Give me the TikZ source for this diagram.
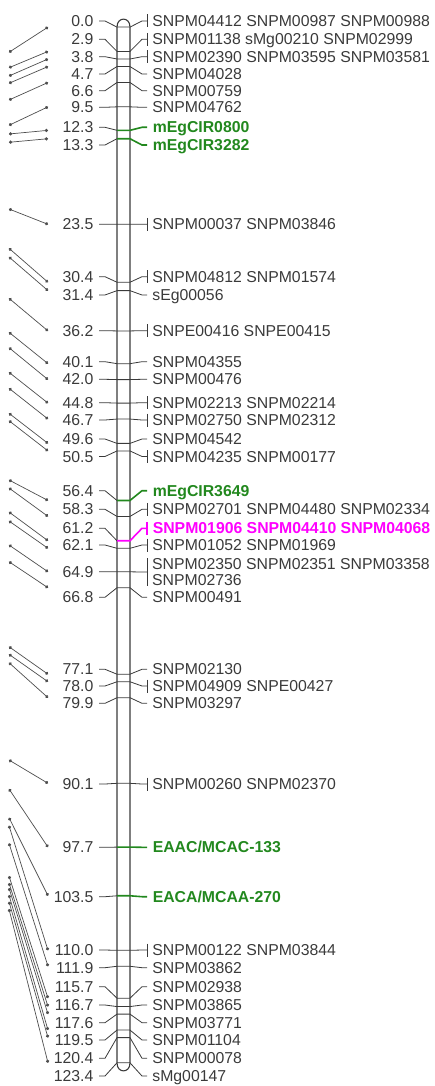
\documentclass[tikz,border=0pt]{standalone}
\usepackage{fontspec}
\setmainfont{Liberation Sans}
\usetikzlibrary{arrows.meta}
\definecolor{ink}{HTML}{3A3A3A}
\definecolor{qtlgreen}{HTML}{22881E}
\definecolor{hitpink}{HTML}{FF00FF}
\newcommand{\mapsize}{\fontsize{15.8}{17}\selectfont}

\begin{document}
\begin{tikzpicture}[x=1pt,y=-1pt,
  plain/.style={color=ink,line width=0.8pt,font=\mapsize},
  qtl/.style={color=qtlgreen,line width=1.6pt,font=\mapsize\bfseries},
  hit/.style={color=hitpink,line width=1.6pt,font=\mapsize\bfseries},
  cmlabel/.style={anchor=east,inner xsep=5.5pt,inner ysep=1pt,text height=11pt,text depth=0pt,font=\mapsize,text=ink},
  mklabel/.style={anchor=west,inner xsep=5pt,inner ysep=1pt,text height=11pt,text depth=0pt},
  mkpair/.style={anchor=west,inner xsep=5pt,inner ysep=0pt,align=left,font={\fontsize{15.8}{16}\selectfont},text=ink},
  link/.style={draw=ink,line width=0.8pt},
  cmp/.style={{Circle[length=3.2pt]}-{Circle[length=3.2pt]},draw=ink!90,line width=0.7pt},
  chrom/.style={draw=ink,line width=1.1pt}
]
\useasboundingbox (0,0) rectangle (434,1086);

% linkage group bar
\draw[chrom] (117,27) .. controls (117,16.5) and (130,16.5) .. (130,27)
  -- (130,1063) .. controls (130,1073.5) and (117,1073.5) .. (117,1063) -- cycle;

% loci: cM / label y / comparison y / tick / style / markers
\foreach \p/\ly/\oy/\th/\c/\txt [count=\i] in {
  0.0/21/52.3/6.5/plain/SNPM04412 SNPM00987 SNPM00988,
  2.9/39.3/67.7/6.5/plain/SNPM01138 sMg00210 SNPM02999,
  3.8/56.7/76/6.5/plain/SNPM02390 SNPM03595 SNPM03581,
  4.7/74/83.3/0/plain/SNPM04028,
  6.6/90.7/100/0/plain/SNPM00759,
  9.5/107.3/125.3/0/plain/SNPM04762,
  12.3/127.3/134/0/qtl/mEgCIR0800,
  13.3/145/142.3/0/qtl/mEgCIR3282,
  23.5/224.3/209/6.5/plain/SNPM00037 SNPM03846,
  30.4/276.7/248.3/6.5/plain/SNPM04812 SNPM01574,
  31.4/295/257/0/plain/sEg00056,
  36.2/330.7/298.3/6.5/plain/SNPE00416 SNPE00415,
  40.1/361.7/332.3/0/plain/SNPM04355,
  42.0/379.3/347.7/0/plain/SNPM00476,
  44.8/402.7/372.3/6.5/plain/SNPM02213 SNPM02214,
  46.7/420/388.3/6.5/plain/SNPM02750 SNPM02312,
  49.6/439/413.3/0/plain/SNPM04542,
  50.5/456.5/420.7/6.5/plain/SNPM04235 SNPM00177,
  56.4/490.7/480/0/qtl/mEgCIR3649,
  58.3/509.3/488/6.5/plain/SNPM02701 SNPM04480 SNPM02334,
  61.2/528.3/512/6.5/hit/SNPM01906 SNPM04410 SNPM04068,
  62.1/545/521/6.5/plain/SNPM01052 SNPM01969,
  66.8/597.3/561.7/0/plain/SNPM00491,
  77.1/669.3/646.7/0/plain/SNPM02130,
  78.0/686/654.3/6.5/plain/SNPM04909 SNPE00427,
  79.9/703.3/662.7/0/plain/SNPM03297,
  90.1/784/760/6.5/plain/SNPM00260 SNPM02370,
  97.7/847.3/789/0/qtl/{EAAC/MCAC-133},
  103.5/896.7/817.7/0/qtl/{EACA/MCAA-270},
  110.0/950/825.7/6.5/plain/SNPM00122 SNPM03844,
  111.9/967.7/843.3/0/plain/SNPM03862,
  115.7/986.7/876/0/plain/SNPM02938,
  116.7/1005/883/0/plain/SNPM03865,
  117.6/1022.7/888/0/plain/SNPM03771,
  119.5/1040/895/0/plain/SNPM01104,
  120.4/1058.3/901.7/0/plain/SNPM00078,
  123.4/1076/909/0/plain/sMg00147}{
  \pgfmathsetmacro\my{27.1+8.393*\p}
  \coordinate (bl\i) at (117,\my);
  \coordinate (br\i) at (130,\my);
  \coordinate (p\i) at (48,\my);
  \coordinate (o\i) at (9,\oy);
  \node[cmlabel] (cm\i) at (99,\ly) {\p};
  \node[mklabel,\c] (mk\i) at (147,\ly) {\txt};
  \draw[cmp] (o\i) -- (p\i);
  \draw[link] (cm\i.east) -- ++(6,0) -- (bl\i);
  \draw[\c] (bl\i) -- (br\i) -- ([xshift=-5pt]mk\i.west) -- (mk\i.west);
  \ifdim\th pt>0pt \draw[\c] ([yshift=\th pt]mk\i.west) -- ([yshift=-\th pt]mk\i.west);\fi
}

% two-line locus at 64.9
\coordinate (blpair) at (117,571.8);
\coordinate (brpair) at (130,571.8);
\coordinate (ppair) at (48,571.8);
\coordinate (opair) at (9,545);
\node[cmlabel] (cmpair) at (99,571.7) {64.9};
\node[mkpair] (mkpair) at (147,572) {SNPM02350 SNPM02351 SNPM03358\\SNPM02736};
\draw[cmp] (opair) -- (ppair);
\draw[link] (cmpair.east) -- ++(6,0) -- (blpair);
\draw[plain] (blpair) -- (brpair) -- ([xshift=-5pt]mkpair.west) -- (mkpair.west);
\draw[plain] (mkpair.north west) -- (mkpair.south west);
\end{tikzpicture}
\end{document}
